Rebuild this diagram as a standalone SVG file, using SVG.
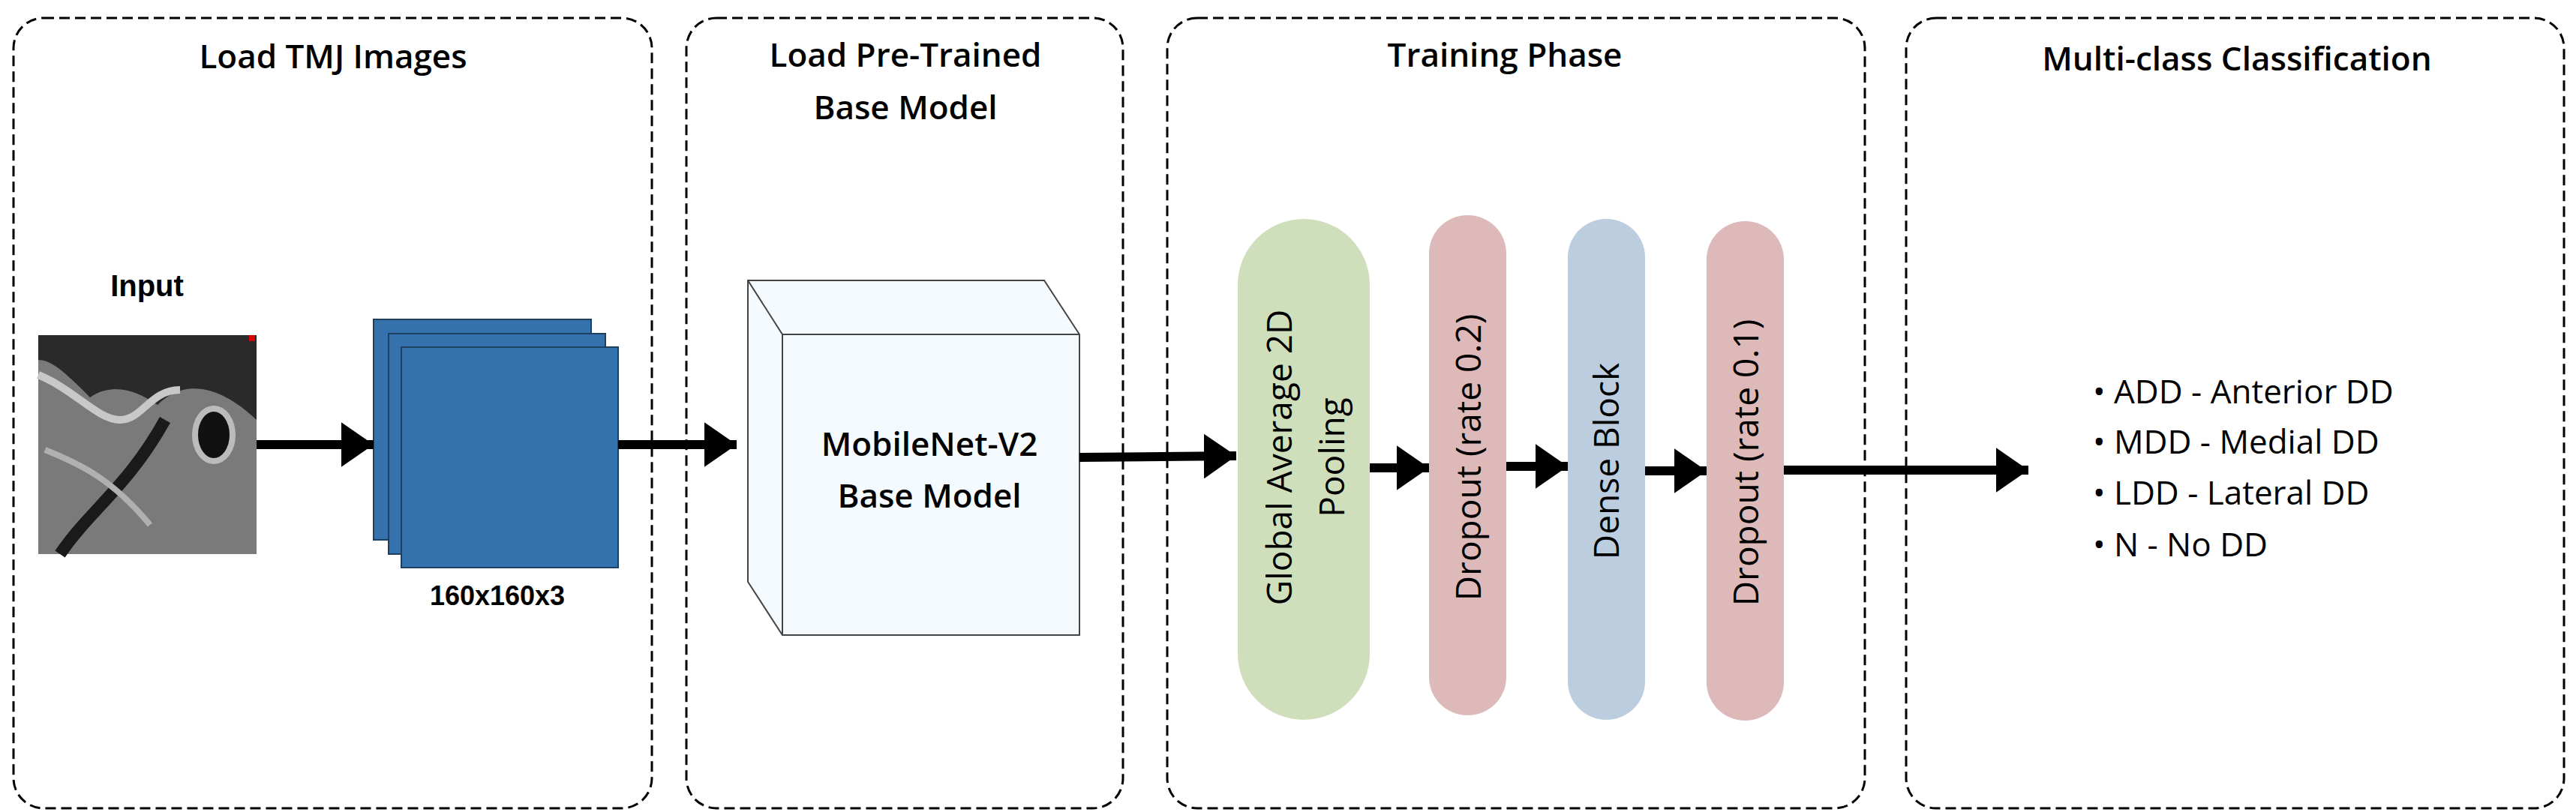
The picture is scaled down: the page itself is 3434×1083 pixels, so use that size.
<svg xmlns="http://www.w3.org/2000/svg" width="3434" height="1083" viewBox="0 0 3434 1083">
<style>
.panel{fill:#fff;stroke:#000;stroke-width:3;stroke-dasharray:14 7}
.title{font-family:"Open Sans","Liberation Sans",sans-serif;font-weight:600;font-size:44px;text-anchor:middle;fill:#000}
.ar{font-family:"Liberation Sans",Arial,sans-serif;font-weight:bold;fill:#000;text-anchor:middle}
.pill{font-family:"Open Sans","Liberation Sans",sans-serif;font-weight:500;font-size:46px;text-anchor:middle;fill:#000}
.blk{fill:#3572AD;stroke:#1d3f60;stroke-width:2}
.shaft{stroke:#000;stroke-width:12;fill:none}
</style>
<defs>
<marker id="ah" markerWidth="4" markerHeight="5" refX="3.6" refY="2.5" orient="auto" markerUnits="strokeWidth"><path d="M0,0L3.6,2.5L0,5z" fill="#000"/></marker>
</defs>
<g id="panel-load"><rect class="panel" x="18" y="24" width="851" height="1054" rx="40"/><text class="title" x="444" y="91">Load TMJ Images</text></g>
<g id="panel-base"><rect class="panel" x="915" y="24" width="582" height="1054" rx="40"/><text class="title" x="1207" y="89">Load Pre-Trained</text><text class="title" x="1207" y="159">Base Model</text></g>
<g id="panel-train"><rect class="panel" x="1556" y="24" width="930" height="1054" rx="40"/><text class="title" x="2006" y="89">Training Phase</text></g>
<g id="panel-class"><rect class="panel" x="2541" y="24" width="877" height="1054" rx="40"/><text class="title" x="2982" y="94">Multi-class Classification</text></g>
<g id="input">
<text class="ar" x="196" y="395" font-size="40">Input</text>
<rect x="51" y="447" width="291" height="292" fill="#7a7a7a"/>
<path d="M51,447H342V560C300,520 250,500 210,540C180,520 150,510 120,530C90,500 70,480 51,480Z" fill="#2a2a2a"/>
<path d="M51,500C100,520 130,560 160,560C190,560 200,520 240,520" stroke="#c8c8c8" stroke-width="10" fill="none"/>
<ellipse cx="285" cy="580" rx="25" ry="35" fill="#111" stroke="#bbb" stroke-width="8"/>
<path d="M80,739C120,680 170,650 220,560" stroke="#1a1a1a" stroke-width="16" fill="none"/>
<path d="M60,600C110,620 150,640 200,700" stroke="#b0b0b0" stroke-width="8" fill="none"/>
<rect x="332" y="447" width="8" height="8" fill="#d00"/>
</g>
<g id="tensor">
<rect class="blk" x="498" y="426" width="290" height="294"/>
<rect class="blk" x="518" y="445" width="289" height="294"/>
<rect class="blk" x="535" y="463" width="289" height="294"/>
<text class="ar" x="663" y="807" font-size="36">160x160x3</text>
</g>
<g id="mobilenet">
<path d="M997,374H1392L1439,446V847H1043L997,776Z" fill="#F5FAFE" stroke="#444" stroke-width="2"/>
<path d="M997,374L1043,446H1439M1043,446V847" fill="none" stroke="#444" stroke-width="2"/>
<text class="title" x="1239" y="608" font-size="46" font-weight="500">MobileNet-V2</text>
<text class="title" x="1239" y="677" font-size="46" font-weight="500">Base Model</text>
</g>
<g id="gap"><rect x="1650" y="292" width="176" height="668" rx="88" fill="#D0DFBB"/>
<text class="pill" transform="translate(1722,610) rotate(-90)">Global Average 2D</text>
<text class="pill" transform="translate(1792,610) rotate(-90)">Pooling</text></g>
<g id="dropout1"><rect x="1905" y="287" width="103" height="667" rx="51" fill="#DDB9B9"/>
<text class="pill" transform="translate(1974,610) rotate(-90)">Dropout (rate 0.2)</text></g>
<g id="dense"><rect x="2090" y="292" width="103" height="668" rx="51" fill="#BCCDE0"/>
<text class="pill" transform="translate(2158,615) rotate(-90)">Dense Block</text></g>
<g id="dropout2"><rect x="2275" y="295" width="103" height="666" rx="51" fill="#DDB9B9"/>
<text class="pill" transform="translate(2344,617) rotate(-90)">Dropout (rate 0.1)</text></g>
<g id="classes" font-family="'Open Sans','Liberation Sans',sans-serif" font-weight="500" font-size="44" fill="#000">
<text x="2790" y="538">• ADD - Anterior DD</text>
<text x="2790" y="605">• MDD - Medial DD</text>
<text x="2790" y="673">• LDD - Lateral DD</text>
<text x="2790" y="742">• N - No DD</text>
</g>
<g id="connectors">
<line class="shaft" x1="342" y1="593" x2="498" y2="593" marker-end="url(#ah)"/>
<line class="shaft" x1="824" y1="593" x2="982" y2="593" marker-end="url(#ah)"/>
<line class="shaft" x1="1439" y1="610" x2="1648" y2="608" marker-end="url(#ah)"/>
<line class="shaft" x1="1826" y1="624" x2="1905" y2="624" marker-end="url(#ah)"/>
<line class="shaft" x1="2008" y1="622" x2="2090" y2="622" marker-end="url(#ah)"/>
<line class="shaft" x1="2193" y1="628" x2="2275" y2="628" marker-end="url(#ah)"/>
<line class="shaft" x1="2378" y1="627" x2="2704" y2="627" marker-end="url(#ah)"/>
</g>
</svg>
